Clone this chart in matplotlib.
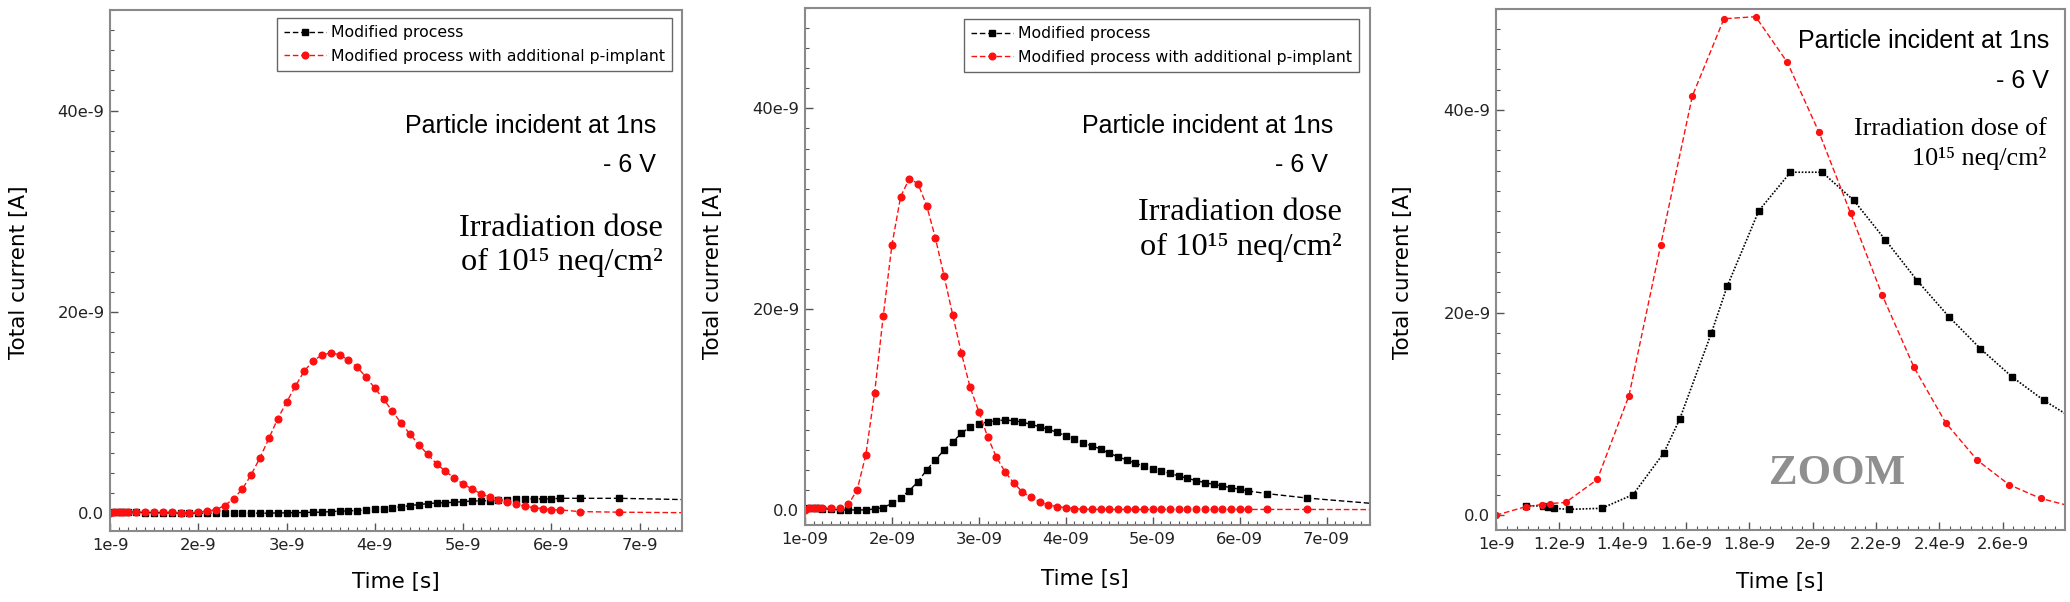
import matplotlib
matplotlib.use("Agg")
import matplotlib.pyplot as plt
from matplotlib.ticker import FixedLocator, FixedFormatter, AutoMinorLocator

plt.rcParams["font.family"] = "DejaVu Sans"

W, H = 2070, 602
NS = 1e-9

LABEL_BLACK = "Modified process"
LABEL_RED = "Modified process with additional p-implant"

# ---- panel 1 data (time in ns, current in nA) ----
P1_T_RED = [1.0, 1.05, 1.1, 1.15, 1.2, 1.3, 1.4, 1.5, 1.6, 1.7, 1.8, 1.9, 2.0, 2.1, 2.2,
            2.3, 2.4, 2.5, 2.6, 2.7, 2.8, 2.9, 3.0, 3.1, 3.2, 3.3, 3.4, 3.5, 3.6, 3.7,
            3.8, 3.9, 4.0, 4.1, 4.2, 4.3, 4.4, 4.5, 4.6, 4.7, 4.8, 4.9, 5.0, 5.1, 5.2,
            5.3, 5.4, 5.5, 5.6, 5.7, 5.8, 5.9, 6.0, 6.1, 6.32, 6.77, 7.8]
P1_RED = [0.0, 0.1, 0.12, 0.12, 0.1, 0.07, 0.07, 0.07, 0.07, 0.07, 0.0, 0.0, 0.07, 0.17, 0.33,
          0.73, 1.42, 2.38, 3.8, 5.5, 7.4, 9.37, 11.0, 12.6, 14.1, 15.1, 15.7, 15.9, 15.74, 15.2,
          14.5, 13.5, 12.4, 11.3, 10.1, 8.9, 7.82, 6.77, 5.81, 4.88, 4.13, 3.47, 2.87, 2.38, 1.91,
          1.58, 1.25, 1.06, 0.86, 0.66, 0.53, 0.43, 0.30, 0.30, 0.13, 0.07, 0.0]
P1_T_BLACK = P1_T_RED[1:]
P1_BLACK = [0.1, 0.13, 0.13, 0.1, 0.07, 0.03, 0.03, 0.0, 0.0, -0.03, -0.03, -0.03, -0.03, -0.03,
            -0.03, -0.03, -0.03, -0.03, -0.03, -0.03, 0.0, 0.0, 0.03, 0.03, 0.07, 0.07, 0.13, 0.17,
            0.2, 0.23, 0.3, 0.36, 0.43, 0.53, 0.6, 0.73, 0.83, 0.92, 0.99, 1.02, 1.05, 1.12, 1.19,
            1.19, 1.22, 1.25, 1.32, 1.35, 1.39, 1.39, 1.39, 1.39, 1.45, 1.45, 1.45, 1.27]

# ---- panel 2 data ----
P2_T_RED = P1_T_RED
P2_RED = [0.0, 0.2, 0.23, 0.23, 0.23, 0.23, 0.23, 0.56, 2.0, 5.5, 11.6, 19.3, 26.4, 31.2, 33.0,
          32.5, 30.3, 27.1, 23.3, 19.4, 15.6, 12.2, 9.8, 7.3, 5.3, 3.8, 2.7, 1.8, 1.25, 0.83,
          0.5, 0.33, 0.23, 0.13, 0.07, 0.05, 0.05, 0.05, 0.05, 0.05, 0.05, 0.05, 0.05, 0.05, 0.05,
          0.05, 0.05, 0.05, 0.05, 0.05, 0.05, 0.05, 0.05, 0.05, 0.05, 0.05, 0.03]
P2_T_BLACK = P1_T_RED[1:]
P2_BLACK = [0.23, 0.2, 0.17, 0.13, 0.07, 0.0, 0.0, 0.0, 0.0, 0.1, 0.23, 0.66, 1.23, 1.92,
            2.82, 3.98, 4.98, 5.97, 6.8, 7.63, 8.29, 8.56, 8.76, 8.89, 8.96, 8.89, 8.76, 8.52,
            8.29, 8.03, 7.73, 7.4, 7.03, 6.63, 6.4, 6.07, 5.64, 5.31, 4.98, 4.64, 4.38, 4.11,
            3.88, 3.65, 3.38, 3.15, 2.92, 2.72, 2.55, 2.39, 2.22, 2.06, 1.89, 1.62, 1.19, 0.45]

# ---- panel 3 data (zoom) ----
P3_T_RED = [1.0, 1.095, 1.145, 1.17, 1.22, 1.32, 1.42, 1.52, 1.62, 1.72, 1.82, 1.92, 2.02,
            2.12, 2.22, 2.32, 2.42, 2.52, 2.62, 2.72, 2.82]
P3_RED = [0.0, 0.85, 1.05, 1.15, 1.26, 3.53, 11.8, 26.65, 41.36, 49.0, 49.2, 44.7, 37.8,
          29.8, 21.7, 14.6, 9.13, 5.43, 3.02, 1.66, 0.85]
P3_T_BLACK = [1.095, 1.15, 1.165, 1.183, 1.23, 1.334, 1.433, 1.53, 1.58, 1.68, 1.73, 1.83,
              1.93, 2.03, 2.13, 2.23, 2.33, 2.43, 2.53, 2.63, 2.73, 2.83]
P3_BLACK = [0.95, 0.9, 0.8, 0.68, 0.58, 0.68, 2.04, 6.15, 9.47, 17.96, 22.58, 30.05,
            33.85, 33.85, 31.07, 27.16, 23.16, 19.6, 16.43, 13.65, 11.34, 9.4]

X12_TICKS = [1, 2, 3, 4, 5, 6, 7]
X1_LABELS = ["1e-9", "2e-9", "3e-9", "4e-9", "5e-9", "6e-9", "7e-9"]
X2_LABELS = ["1e-09", "2e-09", "3e-09", "4e-09", "5e-09", "6e-09", "7e-09"]
X3_TICKS = [1.0, 1.2, 1.4, 1.6, 1.8, 2.0, 2.2, 2.4, 2.6]
X3_LABELS = ["1e-9", "1.2e-9", "1.4e-9", "1.6e-9", "1.8e-9", "2e-9", "2.2e-9", "2.4e-9", "2.6e-9"]
Y_TICKS = [0, 20, 40]
Y_LABELS = ["0.0", "20e-9", "40e-9"]

RED = "#ff1010"
DASH = (0, (4, 2))
DOT = (0, (1, 1))
SERIF = ["Liberation Serif", "DejaVu Serif"]


def fx(px):
    return px / W


def fy(py):
    return 1 - py / H


def make_axes(fig, left, top, right, bottom):
    return fig.add_axes([fx(left), fy(bottom), (right - left) / W, (bottom - top) / H])


def style_axes(ax, xticks, xlabels, xlim, ylim, xminor, xlabel_pos, ylabel_x):
    ax.set_xlim(xlim[0] * NS, xlim[1] * NS)
    ax.set_ylim(ylim[0] * NS, ylim[1] * NS)
    ax.xaxis.set_major_locator(FixedLocator([t * NS for t in xticks]))
    ax.xaxis.set_major_formatter(FixedFormatter(xlabels))
    ax.yaxis.set_major_locator(FixedLocator([v * NS for v in Y_TICKS]))
    ax.yaxis.set_major_formatter(FixedFormatter(Y_LABELS))
    ax.xaxis.set_minor_locator(AutoMinorLocator(xminor))
    ax.yaxis.set_minor_locator(AutoMinorLocator(10))
    ax.tick_params(which="both", direction="in", top=False, right=False,
                   colors="#555555", labelcolor="#222222", labelsize=11.8)
    ax.tick_params(which="major", length=6, width=1.0)
    ax.tick_params(which="minor", length=3, width=0.8)
    ax.tick_params(axis="x", pad=5)
    ax.tick_params(axis="y", pad=4)
    for sp in ax.spines.values():
        sp.set_color("#8a8a8a")
        sp.set_linewidth(1.5)
    fig = ax.figure
    ax.set_xlabel("Time [s]", fontsize=15.5, va="center")
    ax.set_ylabel("Total current [A]", fontsize=15.5, va="center")
    ax.xaxis.set_label_coords(fx(xlabel_pos[0]), fy(xlabel_pos[1]), transform=fig.transFigure)
    ax.yaxis.set_label_coords(fx(ylabel_x), fy(272), transform=fig.transFigure)


def plot_series(ax, t, v, color, marker, ls, lw, ms, label=None):
    ax.plot([x * NS for x in t], [y * NS for y in v], color=color, linestyle=ls, lw=lw,
            marker=marker, ms=ms, mfc=color, mec=color, label=label)


def annotate(fig, right, base_particle, base_volt, right_dose, base_dose1, base_dose2,
             dose1, dose2, dose_size, volt_right=None):
    fig.text(fx(right), fy(base_particle), "Particle incident at 1ns", ha="right",
             va="baseline", fontsize=18, family="Liberation Sans")
    fig.text(fx(volt_right or right), fy(base_volt), "- 6 V", ha="right", va="baseline",
             fontsize=18, family="Liberation Sans")
    fig.text(fx(right_dose), fy(base_dose1), dose1, ha="right", va="baseline",
             fontsize=dose_size, family=SERIF)
    fig.text(fx(right_dose), fy(base_dose2), dose2, ha="right", va="baseline",
             fontsize=dose_size, family=SERIF)


def add_legend(ax, right, top):
    ax.legend(loc="upper right", bbox_to_anchor=(fx(right), fy(top)),
              bbox_transform=ax.figure.transFigure, borderaxespad=0, fontsize=11.3,
              handlelength=2.7, handletextpad=0.3, borderpad=0.45, labelspacing=0.55,
              numpoints=1, fancybox=False, framealpha=1, edgecolor="#666666")


def main():
    fig = plt.figure(figsize=(W / 100, H / 100), dpi=100)

    # panel 1
    ax1 = make_axes(fig, 110, 10, 682, 531)
    plot_series(ax1, P1_T_BLACK, P1_BLACK, "black", "s", DASH, 1.0, 4.5, LABEL_BLACK)
    plot_series(ax1, P1_T_RED, P1_RED, RED, "o", DASH, 1.0, 4.8, LABEL_RED)
    style_axes(ax1, X12_TICKS, X1_LABELS, (1.0, 7.48), (-1.8, 50), 10, (396, 582), 19)
    add_legend(ax1, 672, 18)
    annotate(fig, 656, 133, 172.5, 663, 235.5, 270, "Irradiation dose",
             "of 10¹⁵ neq/cm²", 23.3)

    # panel 2
    ax2 = make_axes(fig, 805, 8, 1370, 525)
    plot_series(ax2, P2_T_BLACK, P2_BLACK, "black", "s", DASH, 1.0, 4.5, LABEL_BLACK)
    plot_series(ax2, P2_T_RED, P2_RED, RED, "o", DASH, 1.0, 4.8, LABEL_RED)
    style_axes(ax2, X12_TICKS, X2_LABELS, (1.0, 7.5), (-1.5, 50), 10, (1085, 579), 713)
    add_legend(ax2, 1359, 19)
    annotate(fig, 1333, 133, 171.7, 1341.7, 220.5, 255, "Irradiation dose",
             "of 10¹⁵ neq/cm²", 23.3, volt_right=1328)

    # panel 3 (zoom)
    ax3 = make_axes(fig, 1496, 8.6, 2065, 530)
    plot_series(ax3, P3_T_BLACK, P3_BLACK, "black", "s", DOT, 1.2, 4.2)
    plot_series(ax3, P3_T_RED, P3_RED, RED, "o", DASH, 1.0, 4.2)
    style_axes(ax3, X3_TICKS, X3_LABELS, (1.0, 2.797), (-1.46, 50), 6, (1780, 582), 1403)
    annotate(fig, 2049, 48.2, 87.8, 2046.7, 135, 164.6, "Irradiation dose of",
             "10¹⁵ neq/cm²", 18.8)
    fig.text(fx(1837), fy(483.8), "ZOOM", ha="center", va="baseline", fontsize=31,
             family="Liberation Serif", fontweight="bold", color="#8f8f8f")

    fig.savefig("out.png", dpi=100)
    plt.close(fig)


if __name__ == "__main__":
    main()
